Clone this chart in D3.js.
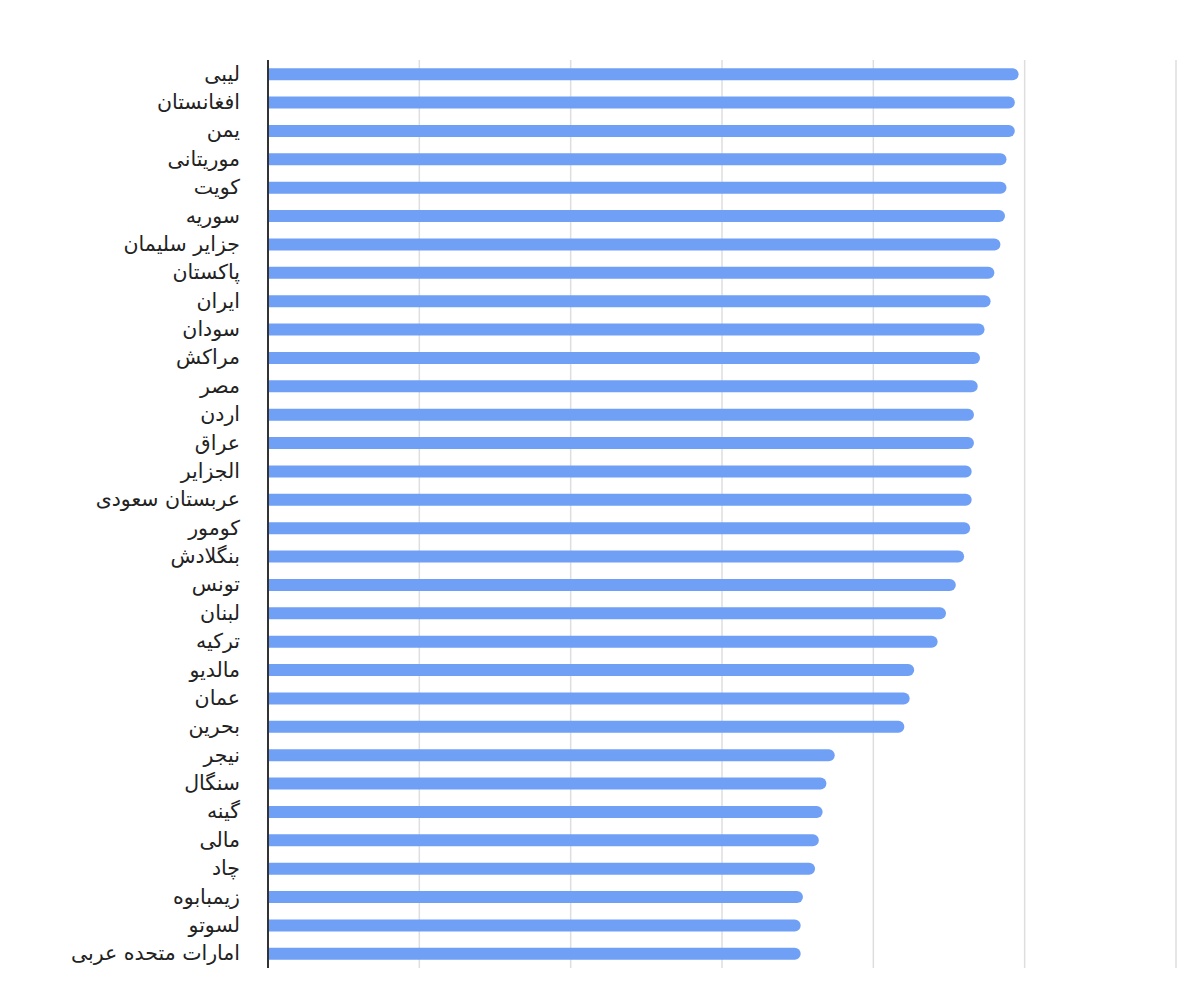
<!DOCTYPE html>
<html><head><meta charset="utf-8">
<script src="https://cdn.jsdelivr.net/npm/d3@7"></script>
<style>body{margin:0;background:#fff}svg{display:block}</style>
</head><body>
<script>
const countries = ["لیبی","افغانستان","یمن","موریتانی","کویت","سوریه","جزایر سلیمان","پاکستان","ایران","سودان","مراکش","مصر","اردن","عراق","الجزایر","عربستان سعودی","کومور","بنگلادش","تونس","لبنان","ترکیه","مالدیو","عمان","بحرین","نیجر","سنگال","گینه","مالی","چاد","زیمبابوه","لسوتو","امارات متحده عربی"];
const values = [99.2,98.7,98.7,97.6,97.6,97.4,96.8,96.0,95.5,94.7,94.1,93.8,93.3,93.3,93.0,93.0,92.8,92.0,90.9,89.6,88.5,85.4,84.8,84.1,74.9,73.8,73.3,72.8,72.3,70.7,70.4,70.4];
const xTicks = [0,20,40,60,80,100,120];

const W=1200,H=1002;
const m={left:268,right:24,top:60,bottom:34};
const svg=d3.select("body").append("svg").attr("width",W).attr("height",H);
const x=d3.scaleLinear().domain([0,120]).range([m.left,W-m.right]);
const y=d3.scaleBand().domain(countries).range([m.top,H-m.bottom]).paddingInner(0).paddingOuter(0);
const bh=12;

svg.append("g").selectAll("line").data(xTicks.slice(1)).join("line")
  .attr("x1",d=>x(d)).attr("x2",d=>x(d)).attr("y1",m.top).attr("y2",H-m.bottom)
  .attr("stroke","#dedede").attr("stroke-width",1.5);

svg.append("g").selectAll("path").data(countries).join("path")
  .attr("fill","#70a0f5")
  .attr("d",(c,i)=>{
    const x0=x(0), x1=x(values[i]), yc=y(c)+y.bandwidth()/2, r=bh/2;
    const p=d3.path();
    p.moveTo(x0,yc-r); p.lineTo(x1-r,yc-r);
    p.arc(x1-r,yc,r,-Math.PI/2,Math.PI/2);
    p.lineTo(x0,yc+r); p.closePath();
    return p.toString();
  });

svg.append("line").attr("x1",m.left).attr("x2",m.left).attr("y1",m.top).attr("y2",H-m.bottom)
  .attr("stroke","#333").attr("stroke-width",2);

svg.append("g").selectAll("text").data(countries).join("text")
  .attr("x",m.left-28).attr("y",c=>y(c)+y.bandwidth()/2)
  .attr("dy","0.32em")
  .attr("text-anchor","end")
  .attr("font-family","DejaVu Sans, sans-serif").attr("font-size",20.5).attr("fill","#222")
  .text(c=>c);
</script>
</body></html>
